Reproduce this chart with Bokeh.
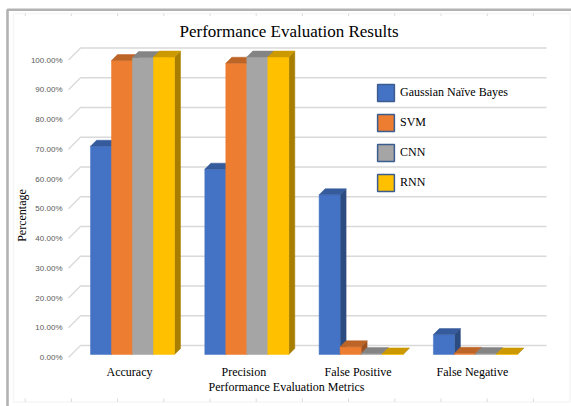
import math

from bokeh.core.properties import value
from bokeh.embed import file_html
from bokeh.models import (BoxAnnotation, ColumnDataSource, Label, Legend,
                          LegendItem, Range1d)
from bokeh.plotting import figure
from bokeh.resources import INLINE

# ---- data -------------------------------------------------------------
categories = ["Accuracy", "Precision", "False Positive", "False Negative"]
series_names = ["Gaussian Naïve Bayes", "SVM", "CNN", "RNN"]
gnb_values = [70.0, 62.3, 53.7, 6.7]
svm_values = [98.8, 97.9, 2.6, 0.4]
cnn_values = [99.8, 100.0, 0.3, 0.3]
rnn_values = [100.0, 100.0, 0.2, 0.2]
y_ticks = [0, 10, 20, 30, 40, 50, 60, 70, 80, 90, 100]
tick_labels = ["%.2f%%" % t for t in y_ticks]

series_values = [gnb_values, svm_values, cnn_values, rnn_values]
series_colors = ["#4472C4", "#ED7D31", "#A5A5A5", "#FFC000"]

# ---- canvas <-> data scale --------------------------------------------
W, H = 571, 406
PX_X = 114.3        # pixels per category unit
PX_Y = 2.975        # pixels per percentage point
CAT_ORIGIN = 129    # canvas x of the first category centre
ZERO_LINE = 357     # canvas y of 0 % on the front plane


def dx(px):
    return 0.5 + (px - CAT_ORIGIN) / PX_X


def dy(py):
    return (ZERO_LINE - py) / PX_Y


WALL_L, WALL_R = dx(68), dx(546)

# ---- pseudo-3D geometry (in data units) -------------------------------
DEPTH_X = 12 / PX_X   # horizontal shift of the back wall
DEPTH_Y = 12 / PX_Y   # vertical shift of the back wall
BAR_FRONT = 0.25      # bars sit between these two depths
BAR_BACK = 0.75
BAR_W = 21 / PX_X     # width of one bar


def shade(hex_color, k):
    r, g, b = (int(hex_color[i:i + 2], 16) for i in (1, 3, 5))
    return "#%02x%02x%02x" % (int(r * k), int(g * k), int(b * k))


p = figure(width=W, height=H, output_backend="svg", toolbar_location=None,
           x_range=Range1d(dx(0), dx(W)), y_range=Range1d(dy(H), dy(0)),
           x_axis_location=None, y_axis_location=None,
           min_border=0, min_border_left=0, min_border_right=0,
           min_border_top=0, min_border_bottom=0)
p.xgrid.visible = False
p.ygrid.visible = False
p.outline_line_color = None
p.background_fill_color = "white"
p.border_fill_color = "white"

# ---- page frame -------------------------------------------------------
p.add_layout(BoxAnnotation(left=dx(13), right=dx(569.5), top=dy(13), bottom=dy(401.5),
                           fill_alpha=0, line_color="#E0E0E0", line_width=1.5))
ruler_x = [24.7 + 46.2 * k for k in range(12)]
p.segment(x0=[dx(x) for x in ruler_x], y0=[dy(398)] * 12,
          x1=[dx(x) for x in ruler_x], y1=[dy(401.5)] * 12,
          line_color="#DADADA", line_width=1)
p.segment(x0=[dx(x) for x in ruler_x], y0=[dy(13)] * 12,
          x1=[dx(x) for x in ruler_x], y1=[dy(15.5)] * 12,
          line_color="#DADADA", line_width=1)
p.add_layout(BoxAnnotation(left=dx(7), right=dx(W + 40), top=dy(9.3), bottom=dy(H + 40),
                           fill_alpha=0, line_color="#000000", line_width=2.6))

# ---- wall gridlines: a diagonal on the side wall, then across the back --
grid_xs = [[WALL_L, WALL_L + DEPTH_X, WALL_R] for _ in y_ticks]
grid_ys = [[t, t + DEPTH_Y, t + DEPTH_Y] for t in y_ticks]
p.multi_line(grid_xs, grid_ys, line_color="#D9D9D9", line_width=1.3)

# ---- value-axis tick labels -------------------------------------------
p.text(x=[WALL_L - 6 / PX_X] * len(y_ticks), y=y_ticks, text=tick_labels,
       text_align="right", text_baseline="middle",
       text_font=value("Liberation Sans"), text_font_size="8px",
       text_color="#595959")

# ---- category labels --------------------------------------------------
p.text(x=[i + 0.5 for i in range(len(categories))], y=[dy(371)] * len(categories),
       text=categories, text_align="center", text_baseline="middle",
       text_font=value("Liberation Serif"), text_font_size="12px",
       text_color="#000000")

# ---- bars: front, side and top faces, left to right ---------------------
dxb = (BAR_BACK - BAR_FRONT) * DEPTH_X
dyb = (BAR_BACK - BAR_FRONT) * DEPTH_Y
front_shift_x = BAR_FRONT * DEPTH_X
front_shift_y = BAR_FRONT * DEPTH_Y

legend_renderers = []
for j, (vals, col) in enumerate(zip(series_values, series_colors)):
    lefts, rights, bottoms, tops = [], [], [], []
    side_xs, side_ys, top_xs, top_ys = [], [], [], []
    for i, v in enumerate(vals):
        center = i + 0.5
        xa = center - 2 * BAR_W + j * BAR_W + front_shift_x
        xb = xa + BAR_W
        yb = front_shift_y
        yt = v + front_shift_y
        lefts.append(xa)
        rights.append(xb)
        bottoms.append(yb)
        tops.append(yt)
        side_xs.append([xb, xb, xb + dxb, xb + dxb])
        side_ys.append([yb, yt, yt + dyb, yb + dyb])
        top_xs.append([xa, xb, xb + dxb, xa + dxb])
        top_ys.append([yt, yt, yt + dyb, yt + dyb])

    src = ColumnDataSource(dict(left=lefts, right=rights, bottom=bottoms, top=tops))
    p.patches(side_xs, side_ys, fill_color=shade(col, 0.66), line_color=shade(col, 0.66),
              line_width=0.5)
    p.quad(left="left", right="right", bottom="bottom", top="top", source=src,
           fill_color=col, line_color=col, line_width=0.5)
    p.patches(top_xs, top_ys, fill_color=shade(col, 0.8), line_color=shade(col, 0.8),
              line_width=0.5)

    # renderer with no drawable box, used only for the legend key
    nan = float("nan")
    key = p.quad(left=[nan], right=[nan], bottom=[nan], top=[nan], fill_color=col,
                 line_color="#3B5C8F", line_width=1.5)
    legend_renderers.append(key)

legend = Legend(
    items=[LegendItem(label=n, renderers=[r]) for n, r in zip(series_names, legend_renderers)],
    location=(375, H - 193), orientation="vertical",
    glyph_width=21, glyph_height=21, spacing=9, padding=0, margin=0,
    label_standoff=4, label_text_font="Liberation Serif", label_text_font_size="12px",
    label_text_color="#000000", border_line_color=None, background_fill_alpha=0,
)
p.add_layout(legend)

# ---- titles -----------------------------------------------------------
p.add_layout(Label(x=dx(288.5), y=dy(31), text="Performance Evaluation Results",
                   text_align="center", text_baseline="middle",
                   text_font="Liberation Serif", text_font_size="17px",
                   text_color="#000000"))
p.add_layout(Label(x=dx(286), y=dy(386), text="Performance Evaluation Metrics",
                   text_align="center", text_baseline="middle",
                   text_font="Liberation Serif", text_font_size="12px",
                   text_color="#000000"))
p.add_layout(Label(x=dx(21), y=dy(215), text="Percentage", angle=math.pi / 2,
                   text_align="center", text_baseline="middle",
                   text_font="Liberation Serif", text_font_size="12px",
                   text_color="#000000"))

open("out.html", "w").write(file_html(p, INLINE))
